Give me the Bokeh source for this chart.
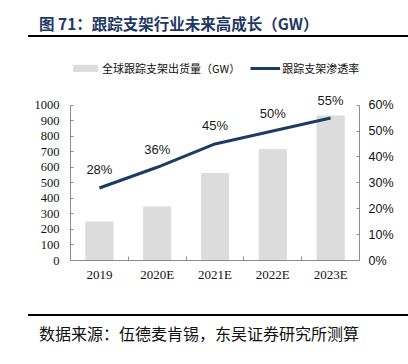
from bokeh.plotting import figure
from bokeh.models import (Range1d, LinearAxis, FixedTicker, NumeralTickFormatter, Div)
from bokeh.layouts import column
from bokeh.core.properties import value
from bokeh.embed import file_html
from bokeh.resources import INLINE

# ---- data ----
categories = ["2019", "2020E", "2021E", "2022E", "2023E"]
shipments = [248, 345, 560, 715, 930]          # 全球跟踪支架出货量（GW）
penetration = [0.28, 0.36, 0.45, 0.50, 0.55]   # 跟踪支架渗透率
left_ticks = [0, 100, 200, 300, 400, 500, 600, 700, 800, 900, 1000]
right_ticks = [0.0, 0.1, 0.2, 0.3, 0.4, 0.5, 0.6]
title_text = "图 71：跟踪支架行业未来高成长（GW）"
source_text = "数据来源：伍德麦肯锡，东吴证券研究所测算"
bar_name = "全球跟踪支架出货量（GW）"
line_name = "跟踪支架渗透率"

n = len(categories)
centers = [i + 0.5 for i in range(n)]
bounds = [float(i) for i in range(n + 1)]
pct_labels = [f"{round(v * 100)}%" for v in penetration]

BAR = "#DCDCDC"
NAVY = "#1C3B66"
AXIS = "#8C8C8C"

# frame extended upward (head room for the legend); axes bounded to the data scale
HEAD = 1.3
W = 408
p = figure(width=W, height=272, output_backend="svg", toolbar_location=None, margin=0,
           x_range=Range1d(0, n), y_range=Range1d(0, 1000 * HEAD),
           min_border_left=70, min_border_right=49, min_border_top=18, min_border_bottom=52)
p.extra_y_ranges = {"pct": Range1d(0, 0.6 * HEAD)}
p.grid.visible = False
p.outline_line_color = None
p.background_fill_color = "white"
p.border_fill_color = "white"

p.vbar(x=centers, top=shipments, width=0.47, color=BAR, legend_label=bar_name)
p.line(x=centers, y=penetration, y_range_name="pct", line_width=3, color=NAVY,
       legend_label=line_name)
p.text(x=centers, y=penetration, text=pct_labels, y_range_name="pct",
       text_align="center", text_baseline="middle", y_offset=-18,
       text_font=value("Liberation Sans"), text_font_size="13px", text_color="#1a1a1a")

# x axis
xa = p.xaxis[0]
xa.ticker = FixedTicker(ticks=centers, minor_ticks=bounds)
xa.major_label_overrides = {c: lab for c, lab in zip(centers, categories)}
xa.major_tick_in = 0
xa.major_tick_out = 0
xa.minor_tick_in = 4
xa.minor_tick_out = 0
xa.axis_line_color = AXIS
xa.minor_tick_line_color = AXIS
xa.major_label_text_font = "Liberation Serif"
xa.major_label_text_font_size = "13px"
xa.major_label_text_color = "#111111"
xa.major_label_standoff = 6

# left axis
ya = p.yaxis[0]
ya.ticker = FixedTicker(ticks=left_ticks)
ya.bounds = (0, 1000)
ya.major_tick_in = 3
ya.major_tick_out = 0
ya.minor_tick_line_color = None
ya.axis_line_color = AXIS
ya.major_tick_line_color = AXIS
ya.major_label_text_font = "Liberation Serif"
ya.major_label_text_font_size = "12.5px"
ya.major_label_text_color = "#111111"
ya.major_label_standoff = 11

# right axis
ra = LinearAxis(y_range_name="pct", ticker=FixedTicker(ticks=right_ticks),
                formatter=NumeralTickFormatter(format="0%"), bounds=(0, 0.6))
ra.major_tick_in = 3
ra.major_tick_out = 0
ra.minor_tick_line_color = None
ra.axis_line_color = AXIS
ra.major_tick_line_color = AXIS
ra.major_label_text_font = "Liberation Sans"
ra.major_label_text_font_size = "12.5px"
ra.major_label_text_color = "#111111"
ra.major_label_standoff = 9
p.add_layout(ra, "right")

# legend
lg = p.legend[0]
lg.orientation = "horizontal"
lg.location = (0, 184)
lg.border_line_color = None
lg.background_fill_alpha = 0
lg.padding = 0
lg.margin = 0
lg.spacing = 10
lg.glyph_width = 30
lg.glyph_height = 8
lg.label_height = 14
lg.label_standoff = 2
lg.label_text_font = "Noto Sans CJK SC"
lg.label_text_font_size = "11px"
lg.label_text_color = "#111111"

# (the markup content renders ~14px left of its box, so left offsets compensate)
title_div = Div(width=W, height=40, margin=0, text=(
    '<div style="position:relative;width:408px;height:40px;">'
    '<div style="position:absolute;left:39px;top:13px;white-space:nowrap;'
    "font-family:'Noto Sans CJK SC';font-weight:bold;font-size:15.5px;line-height:20px;"
    'color:#1F3864;">' + title_text + '</div>'
    '<div style="position:absolute;left:28px;top:35px;width:394px;height:2px;background:#000;"></div>'
    '</div>'))

foot_div = Div(width=W, height=52, margin=0, text=(
    '<div style="position:relative;width:408px;height:52px;">'
    '<div style="position:absolute;left:28px;top:2px;width:394px;height:2px;background:#000;"></div>'
    '<div style="position:absolute;left:39px;top:11px;white-space:nowrap;'
    "font-family:'Noto Sans CJK SC';font-size:16px;line-height:20px;color:#111;\">"
    + source_text + '</div>'
    '</div>'))

layout = column(title_div, p, foot_div, spacing=0, margin=0)
open("out.html", "w").write(file_html(layout, INLINE))
